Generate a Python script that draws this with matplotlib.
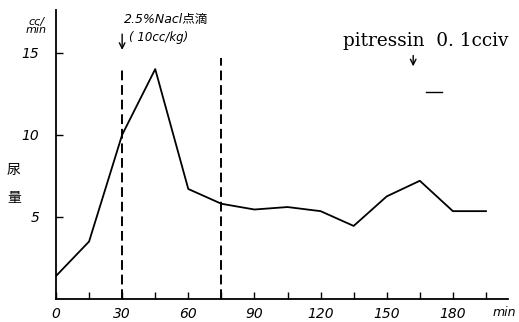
import matplotlib
matplotlib.use("Agg")
import matplotlib.pyplot as plt

plt.rcParams['font.family'] = ['DejaVu Sans', 'Noto Sans CJK JP']

times = [0, 15, 30, 45, 60, 75, 90, 105, 120, 135, 150, 165, 180, 195]
urine = [1.4, 3.5, 10.0, 14.0, 6.7, 5.8, 5.45, 5.6, 5.35, 4.45, 6.25, 7.2, 5.35, 5.35]
xticks = [0, 30, 60, 90, 120, 150, 180]
yticks = [5, 10, 15]
infusion_start, infusion_end = 30, 75
pitressin_time = 162

fig = plt.figure(figsize=(5.19, 3.22), dpi=100)
W, H = 519, 322
ax = fig.add_axes([56 / W, 1 - 299 / H, (508 - 56) / W, (299 - 10) / H])
ax.plot(times, urine, color='black', lw=1.3)
ax.axvline(infusion_start, ymin=0, ymax=14.2 / 17.6, color='black', ls=(0, (5, 2.5)), lw=1.4)
ax.axvline(infusion_end, ymin=0, ymax=14.7 / 17.6, color='black', ls=(0, (5, 2.5)), lw=1.4)
ax.set_xlim(0, 205)
ax.set_ylim(0, 17.6)
for s in ['top', 'right']:
    ax.spines[s].set_visible(False)
ax.spines['left'].set_linewidth(1.3)
ax.spines['bottom'].set_linewidth(1.3)
ax.set_xticks(list(range(0, 200, 15)), minor=True)
ax.set_xticks(xticks)
ax.set_xticklabels([str(t) for t in xticks], fontstyle='italic', fontsize=10)
ax.set_yticks(yticks)
ax.set_yticklabels([str(v) for v in yticks], fontstyle='italic', fontsize=10)
ax.tick_params(axis='both', which='both', direction='in', length=5, width=1)
ax.tick_params(axis='x', pad=6)
ax.tick_params(axis='y', pad=12)

fig.text(519 / W - 0.005, 1 - 312 / H, 'min', fontstyle='italic', fontsize=9, ha='right', va='center')
fig.text(36 / W, 1 - 26 / H, 'cc/\nmin', fontstyle='italic', fontsize=8, ha='center', va='center', linespacing=0.8)
fig.text(14 / W, 1 - 184 / H, '尿\n\n量', family=['Noto Sans CJK JP'], fontsize=10, ha='center', va='center', linespacing=1.0)

ax.annotate('', xy=(infusion_start, 15.0), xytext=(infusion_start, 16.3),
            arrowprops=dict(arrowstyle='->', color='black', lw=1))
ax.text(31, 17.0, '2.5%Nacl点滴', family=['DejaVu Sans', 'Noto Sans CJK JP'], fontstyle='italic', fontsize=9, va='center')
ax.text(33, 15.9, '( 10cc/kg)', fontstyle='italic', fontsize=8.5, va='center')

ax.text(130, 15.7, 'pitressin  0. 1cciv', family='DejaVu Serif', fontsize=13.3, ha='left', va='center')
ax.annotate('', xy=(pitressin_time, 14.0), xytext=(pitressin_time, 15.0),
            arrowprops=dict(arrowstyle='->', color='black', lw=1))
ax.plot([168, 175], [12.6, 12.6], color='black', lw=1)

fig.savefig('out.png', dpi=100)
